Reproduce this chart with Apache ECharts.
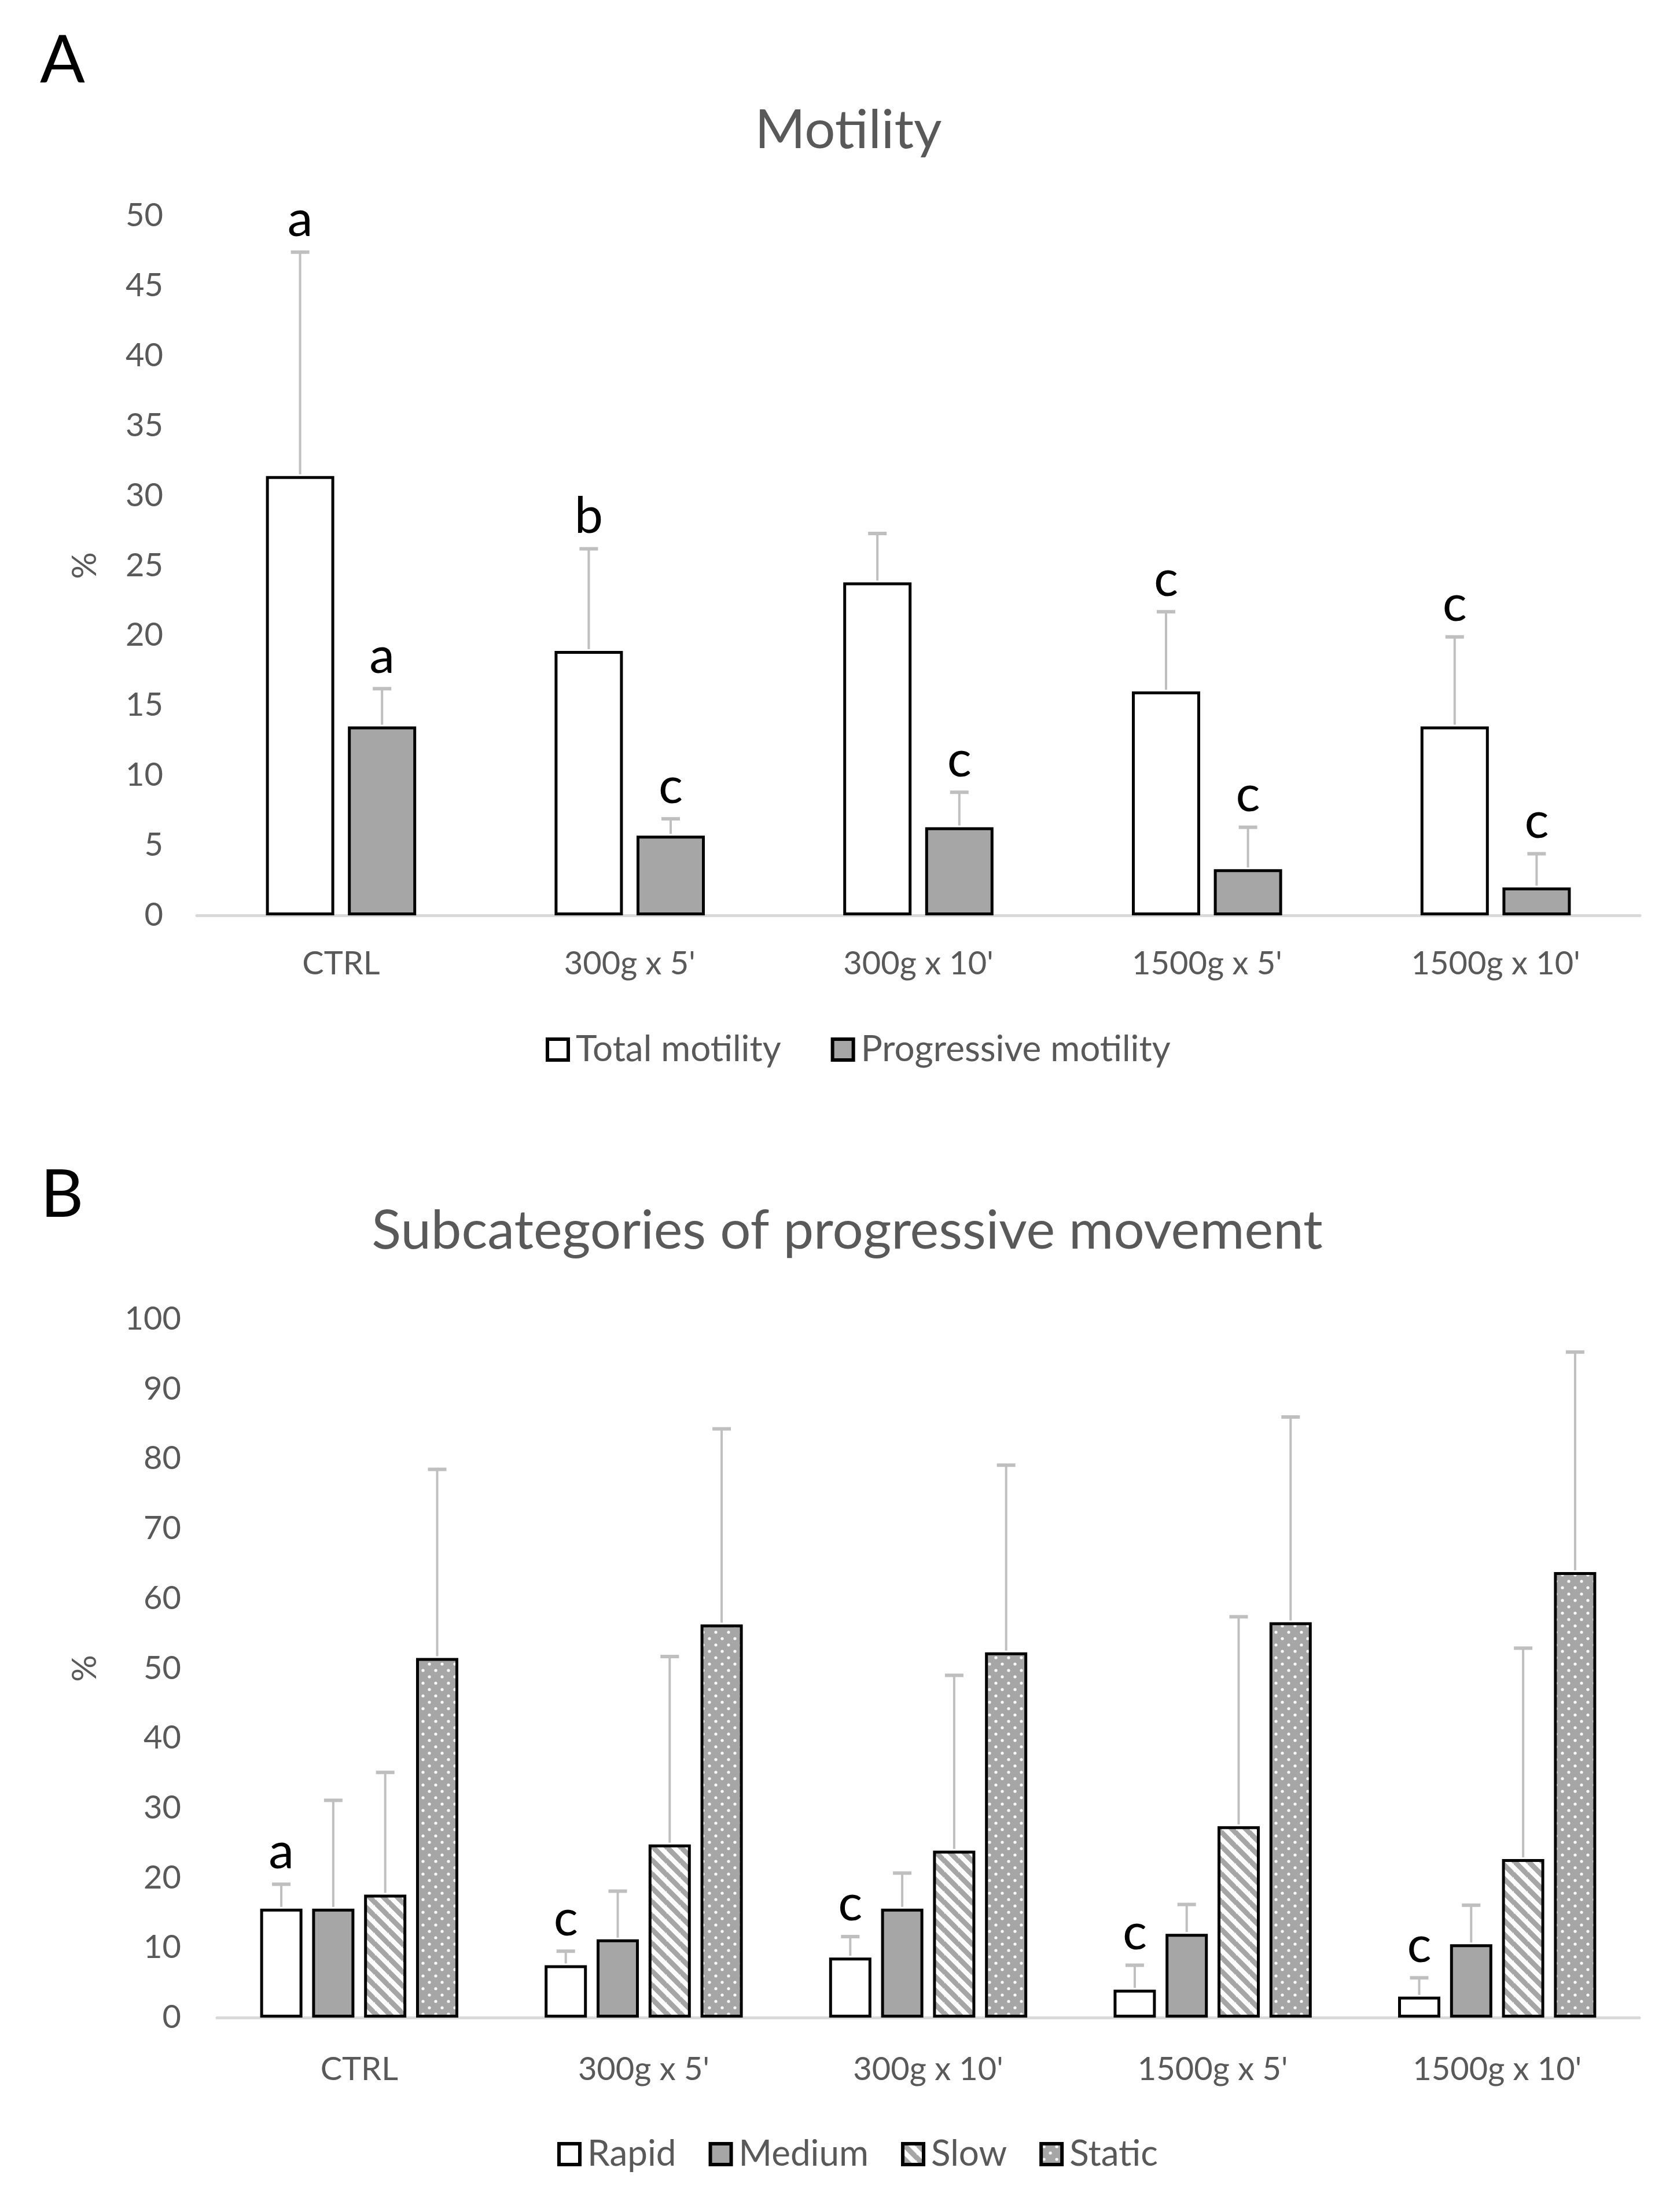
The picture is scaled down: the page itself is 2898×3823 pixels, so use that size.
<!DOCTYPE html>
<html>
<head>
<meta charset="utf-8">
<script src="https://cdn.jsdelivr.net/npm/echarts@6/dist/echarts.min.js"></script>
<style>
html,body{margin:0;padding:0;background:#fff;}
#chart{width:2898px;height:3823px;}
</style>
</head>
<body>
<div id="chart"></div>
<script>
// ---------- DATA ----------
const categories = ['CTRL', "300g x 5'", "300g x 10'", "1500g x 5'", "1500g x 10'"];

// Panel A (Motility)
const yTicksA = [0, 5, 10, 15, 20, 25, 30, 35, 40, 45, 50];
const totalMotility = [31.4, 18.9, 23.8, 16.0, 13.5];
const totalMotilityErr = [16.0, 7.3, 3.5, 5.7, 6.4];
const totalMotilityLetters = ['a', 'b', '', 'c', 'c'];
const progMotility = [13.5, 5.7, 6.3, 3.3, 2.0];
const progMotilityErr = [2.7, 1.2, 2.5, 3.0, 2.4];
const progMotilityLetters = ['a', 'c', 'c', 'c', 'c'];

// Panel B (Subcategories of progressive movement)
const yTicksB = [0, 10, 20, 30, 40, 50, 60, 70, 80, 90, 100];
const rapid = [15.6, 7.5, 8.6, 4.0, 3.0];
const rapidErr = [3.5, 2.0, 3.0, 3.5, 2.7];
const rapidLetters = ['a', 'c', 'c', 'c', 'c'];
const medium = [15.6, 11.2, 15.6, 12.0, 10.5];
const mediumErr = [15.5, 6.9, 5.1, 4.2, 5.6];
const slow = [17.6, 24.8, 23.9, 27.4, 22.7];
const slowErr = [17.5, 26.9, 25.1, 30.0, 30.2];
const staticVals = [51.5, 56.3, 52.3, 56.6, 63.8];
const staticErr = [27.0, 28.0, 26.8, 29.4, 31.5];

// ---------- STYLE ----------
const FONT = 'Lato, "Open Sans", sans-serif';
const GRAY = '#a6a6a6';
const TXT = '#595959';

function stripePattern() {
  const s = 24, c = document.createElement('canvas');
  c.width = s; c.height = s;
  const g = c.getContext('2d');
  g.fillStyle = '#fff'; g.fillRect(0, 0, s, s);
  g.strokeStyle = GRAY; g.lineWidth = 9;
  for (let k = -1; k <= 1; k++) {
    g.beginPath(); g.moveTo(-2, k * s - 2); g.lineTo(s + 2, k * s + s + 2); g.stroke();
  }
  return { image: c, repeat: 'repeat' };
}
function dotPattern() {
  const w = 22, h = 22, c = document.createElement('canvas');
  c.width = w; c.height = h;
  const g = c.getContext('2d');
  g.fillStyle = GRAY; g.fillRect(0, 0, w, h);
  g.fillStyle = '#fff';
  [[5, 5], [16, 16]].forEach(p => { g.beginPath(); g.arc(p[0], p[1], 2.6, 0, Math.PI * 2); g.fill(); });
  return { image: c, repeat: 'repeat' };
}

const BW_A = 118, GAP_A = 0.2;
const BW_B = 73, GAP_B = 0.23;
function offsets(n, bw, gap) {
  const total = n * bw + (n - 1) * gap * bw;
  const arr = [];
  for (let i = 0; i < n; i++) arr.push(-total / 2 + bw / 2 + i * bw * (1 + gap));
  return arr;
}
const offA = offsets(2, BW_A, GAP_A);
const offB = offsets(4, BW_B, GAP_B);

function barSeries(name, grid, values, color, bw, gap) {
  return {
    type: 'bar', name, xAxisIndex: grid, yAxisIndex: grid, data: values,
    barWidth: bw, barGap: (gap * 100) + '%',
    itemStyle: { color, borderColor: '#000', borderWidth: 5 },
    emphasis: { disabled: true }, silent: true
  };
}
function errSeries(grid, values, errs, letters, offset) {
  return {
    type: 'custom', xAxisIndex: grid, yAxisIndex: grid, z: 5, silent: true, clip: false,
    data: values.map((v, i) => [i, v, errs[i]]),
    renderItem: function (params, api) {
      const i = api.value(0), v = api.value(1), e = api.value(2);
      const p0 = api.coord([i, v]);
      const p1 = api.coord([i, v + e]);
      const x = p0[0] + offset;
      const children = [
        { type: 'line', shape: { x1: x, y1: p0[1] - 3, x2: x, y2: p1[1] }, style: { stroke: '#bfbfbf', lineWidth: 4 } },
        { type: 'line', shape: { x1: x - 16, y1: p1[1], x2: x + 16, y2: p1[1] }, style: { stroke: '#bfbfbf', lineWidth: 6 } }
      ];
      const L = letters ? letters[params.dataIndex] : '';
      if (L) {
        children.push({
          type: 'text',
          style: { text: L, x: x, y: p1[1] - 12, align: 'center', verticalAlign: 'bottom',
                   textAlign: 'center', textVerticalAlign: 'bottom',
                   font: '88px ' + FONT, fill: '#000' }
        });
      }
      return { type: 'group', children };
    }
  };
}

function xAxis(grid, margin) {
  return {
    type: 'category', gridIndex: grid, data: categories,
    axisLine: { lineStyle: { color: '#d9d9d9', width: 5 } },
    axisTick: { show: false },
    axisLabel: { fontSize: 56, color: TXT, fontFamily: FONT, margin }
  };
}
function yAxis(grid, ticks, margin, nameGap) {
  return {
    type: 'value', gridIndex: grid, min: ticks[0], max: ticks[ticks.length - 1],
    interval: ticks[1] - ticks[0],
    name: '%', nameLocation: 'middle', nameGap,
    nameTextStyle: { fontSize: 58, color: TXT, fontFamily: FONT },
    axisLine: { show: false }, axisTick: { show: false }, splitLine: { show: false },
    axisLabel: { fontSize: 56, color: TXT, fontFamily: FONT, margin }
  };
}
function legend(names, left, top, gap) {
  return {
    data: names, left, top, orient: 'horizontal', icon: 'rect',
    itemWidth: 36, itemHeight: 36, itemGap: gap,
    itemStyle: { borderColor: '#000', borderWidth: 6 },
    textStyle: { fontSize: 62, color: TXT, fontFamily: FONT, padding: [0, 0, 0, 8] },
    selectedMode: false
  };
}

const chart = echarts.init(document.getElementById('chart'), null, { renderer: 'canvas' });
chart.setOption({
  backgroundColor: '#fff',
  animation: false,
  graphic: [
    { type: 'text', x: 69, y: 105, style: { text: 'A', font: '115px ' + FONT, fill: '#000', textAlign: 'left', textVerticalAlign: 'middle', align: 'left', verticalAlign: 'middle' } },
    { type: 'text', x: 1466, y: 226, style: { text: 'Motility', font: '94px ' + FONT, fill: TXT, textAlign: 'center', textVerticalAlign: 'middle', align: 'center', verticalAlign: 'middle' } },
    { type: 'text', x: 70, y: 2066, style: { text: 'B', font: '115px ' + FONT, fill: '#000', textAlign: 'left', textVerticalAlign: 'middle', align: 'left', verticalAlign: 'middle' } },
    { type: 'text', x: 1464, y: 2128, style: { text: 'Subcategories of progressive movement', font: '94px ' + FONT, fill: TXT, textAlign: 'center', textVerticalAlign: 'middle', align: 'center', verticalAlign: 'middle' } }
  ],
  grid: [
    { left: 340, right: 64, top: 373, bottom: 3823 - 1582 },
    { left: 375, right: 65, top: 2280, bottom: 3823 - 3487 }
  ],
  xAxis: [xAxis(0, 56), xAxis(1, 62)],
  yAxis: [yAxis(0, yTicksA, 58, 164), yAxis(1, yTicksB, 62, 199)],
  legend: [
    legend(['Total motility', 'Progressive motility'], 938, 1778, 86),
    legend(['Rapid', 'Medium', 'Slow', 'Static'], 958, 3687, 56)
  ],
  series: [
    barSeries('Total motility', 0, totalMotility, '#fff', BW_A, GAP_A),
    barSeries('Progressive motility', 0, progMotility, GRAY, BW_A, GAP_A),
    errSeries(0, totalMotility, totalMotilityErr, totalMotilityLetters, offA[0]),
    errSeries(0, progMotility, progMotilityErr, progMotilityLetters, offA[1]),

    barSeries('Rapid', 1, rapid, '#fff', BW_B, GAP_B),
    barSeries('Medium', 1, medium, GRAY, BW_B, GAP_B),
    barSeries('Slow', 1, slow, stripePattern(), BW_B, GAP_B),
    barSeries('Static', 1, staticVals, dotPattern(), BW_B, GAP_B),
    errSeries(1, rapid, rapidErr, rapidLetters, offB[0]),
    errSeries(1, medium, mediumErr, null, offB[1]),
    errSeries(1, slow, slowErr, null, offB[2]),
    errSeries(1, staticVals, staticErr, null, offB[3])
  ]
});
</script>
</body>
</html>
